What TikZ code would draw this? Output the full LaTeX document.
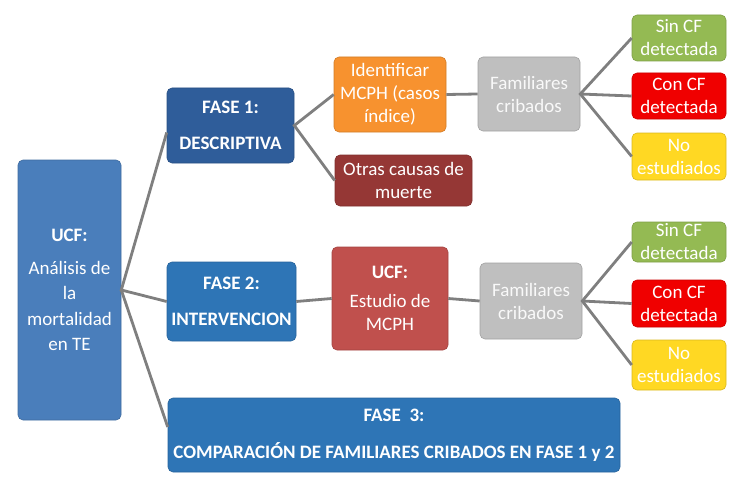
\documentclass[tikz,border=0pt]{standalone}
\usepackage{fontspec}
\setmainfont{Carlito}
\definecolor{cUCF}{HTML}{4A7EBB}
\definecolor{cFa}{HTML}{2F5D9A}
\definecolor{cFb}{HTML}{2E75B6}
\definecolor{cOra}{HTML}{F7922F}
\definecolor{cOtr}{HTML}{953735}
\definecolor{cUCFb}{HTML}{C0504D}
\definecolor{cGry}{HTML}{BFBFBF}
\definecolor{cGrn}{HTML}{94BA53}
\definecolor{cRed}{HTML}{F00000}
\definecolor{cYel}{HTML}{FFD823}
\definecolor{cLine}{HTML}{7F7F7F}
\tikzset{
  box/.style={rectangle, rounded corners=5pt, inner sep=0pt, align=center,
    text=white, font=\fontsize{19}{23}\selectfont, draw=#1!85!black, line width=0.6pt, fill=#1},
  conn/.style={draw=cLine, line width=2.8pt}
}
\begin{document}
\begin{tikzpicture}[x=1pt,y=-1pt]
\useasboundingbox (0,0) rectangle (750,487);
\node[box=cUCF, minimum width=103, minimum height=260, font=\fontsize{19}{25.5}\selectfont] (ucf) at (69.5,290)
  {\textbf{UCF:}\\[7pt]Análisis de\\la\\mortalidad\\en TE};
\node[box=cFa, minimum width=127, minimum height=75] (f1) at (230.5,125.5)
  {\textbf{FASE 1:}\\[13pt]\textbf{DESCRIPTIVA}};
\node[box=cFb, minimum width=129, minimum height=79] (f2) at (231.5,301.5)
  {\textbf{FASE 2:}\\[13pt]\textbf{INTERVENCION}};
\node[box=cFb, minimum width=452, minimum height=74] (f3) at (394,435)
  {\textbf{FASE\ \ 3:}\\[14pt]\textbf{COMPARACIÓN DE FAMILIARES CRIBADOS EN FASE 1 y 2}};
\node[box=cOra, minimum width=112, minimum height=75] (ident) at (390,94.5)
  {Identificar\\MCPH (casos\\índice)};
\node[box=cOtr, minimum width=137, minimum height=51] (otras) at (403.5,180.5)
  {Otras causas de\\muerte};
\node[box=cGry, text=white!95!gray, minimum width=102, minimum height=74] (fam1) at (529,94)
  {Familiares\\cribados};
\node[box=cGrn, minimum width=94, minimum height=46] (sin1) at (679,38)
  {Sin CF\\detectada};
\node[box=cRed, minimum width=94, minimum height=46] (con1) at (679,96)
  {Con CF\\detectada};
\node[box=cYel, minimum width=94, minimum height=47] (no1) at (679,156.5)
  {No\\estudiados};
\node[box=cUCFb, minimum width=116, minimum height=103] (ucf2) at (390,298.5)
  {\textbf{UCF:}\\[6pt]Estudio de\\MCPH};
\node[box=cGry, text=white!95!gray, minimum width=102, minimum height=76] (fam2) at (531,301)
  {Familiares\\cribados};
\node[box=cGrn, minimum width=94, minimum height=40] (sin2) at (679,242)
  {Sin CF\\detectada};
\node[box=cRed, minimum width=94, minimum height=47] (con2) at (679,303.5)
  {Con CF\\detectada};
\node[box=cYel, minimum width=94, minimum height=50] (no2) at (679,365)
  {No\\estudiados};
\draw[conn] ([yshift=-7pt]f1.west) -- (ucf.east) -- (f2.west);
\draw[conn] (ucf.east) -- ([yshift=8pt]f3.west);
\draw[conn] (ident.west) -- (f1.east) -- (otras.west);
\draw[conn] (ident.east) -- (fam1.west);
\draw[conn] (sin1.west) -- (fam1.east) -- (no1.west);
\draw[conn] (fam1.east) -- (con1.west);
\draw[conn] (f2.east) -- (ucf2.west);
\draw[conn] (ucf2.east) -- (fam2.west);
\draw[conn] (sin2.west) -- (fam2.east) -- (no2.west);
\draw[conn] (fam2.east) -- (con2.west);
\end{tikzpicture}
\end{document}
